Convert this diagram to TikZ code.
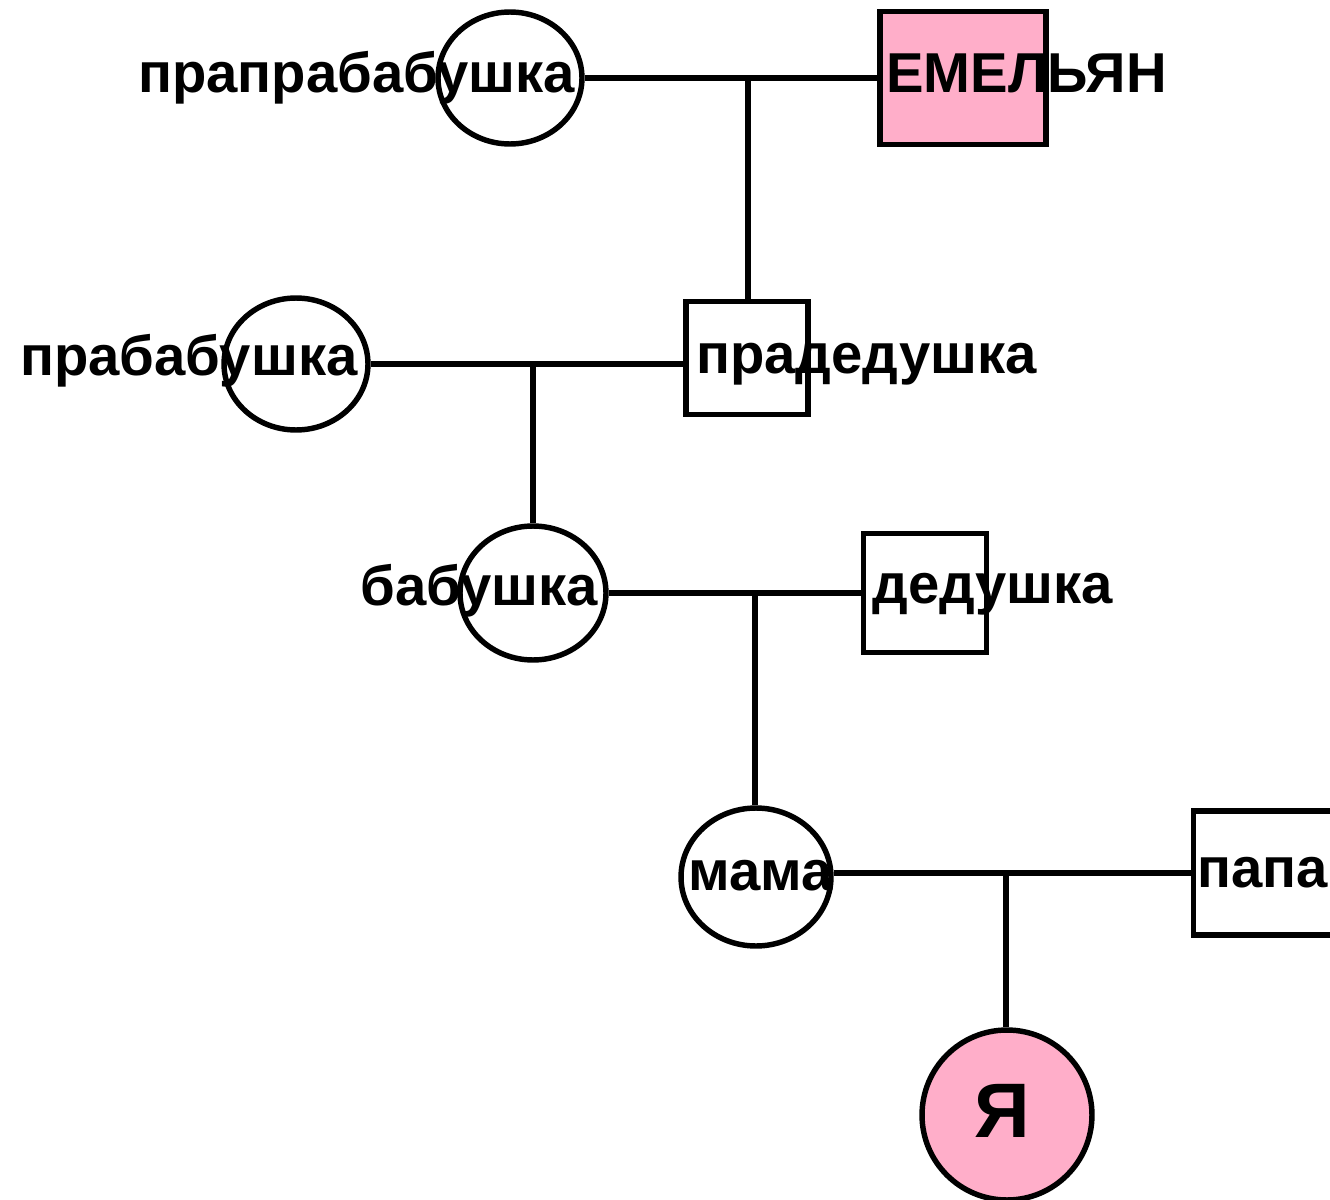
\documentclass[tikz,border=0pt]{standalone}
\usepackage{fontspec}
\setmainfont{Liberation Sans}
\usetikzlibrary{shapes.geometric}
\definecolor{pinkf}{RGB}{255,174,201}
\begin{document}
\begin{tikzpicture}[x=0.02cm,y=-0.02cm,
  ln/.style={line width=3.1pt},
  fem/.style={ellipse,draw,line width=3.1pt,inner sep=0pt},
  mal/.style={rectangle,draw,line width=3.1pt,inner sep=0pt},
  lbl/.style={anchor=base west,inner sep=0pt,font=\fontsize{32}{32}\selectfont\bfseries}]
\useasboundingbox (0,0) rectangle (1330,1200);
% shapes
\node[fem,minimum width=2.88cm,minimum height=2.64cm] (e1) at (510,78) {};
\node[mal,fill=pinkf,minimum width=3.32cm,minimum height=2.66cm] (s1) at (963,78) {};
\node[mal,minimum width=2.44cm,minimum height=2.26cm] (s2) at (747,358) {};
\node[fem,minimum width=2.88cm,minimum height=2.64cm] (e2) at (296,364) {};
\node[fem,minimum width=2.92cm,minimum height=2.68cm] (e3) at (533,593) {};
\node[mal,minimum width=2.46cm,minimum height=2.38cm] (s3) at (925,593) {};
\node[fem,minimum width=3.0cm,minimum height=2.76cm] (e4) at (756,877) {};
\node[mal,minimum width=2.9cm,minimum height=2.48cm] (s4) at (1266,873) {};
\node[circle,draw,line width=3.1pt,fill=pinkf,minimum size=3.4cm,inner sep=0pt] (me) at (1007,1115) {};
% connectors
\coordinate (j1) at (748,76);
\coordinate (j2) at (533,362);
\coordinate (j3) at (755,594);
\coordinate (j4) at (1006,873);
\draw[ln] (e1.east) -- (e1.east -| s1.west);
\draw[ln] (j1) -- (j1 |- s2.north);
\draw[ln] (e2.east) -- (e2.east -| s2.west);
\draw[ln] (j2) -- (j2 |- e3.north);
\draw[ln] (e3.east) -- (e3.east -| s3.west);
\draw[ln] (j3) -- (j3 |- e4.north);
\draw[ln] (j4 -| e4.east) -- (j4 -| s4.west);
\draw[ln] (j4) -- (j4 |- me.north);
% labels
\node[lbl] (t1) at (138,92) {прапрабабушка};
\node[lbl] (t2) at (886,92) {ЕМЕЛЬЯН};
\node[lbl] (t3) at (20,375) {прабабушка};
\node[lbl] (t4) at (696,373) {прадедушка};
\node[lbl] (t5) at (360,605) {бабушка};
\node[lbl] (t6) at (872,603) {дедушка};
\node[lbl] (t7) at (688,890) {мама};
\node[lbl] (t8) at (1197,887) {папа};
\node[anchor=base,inner sep=0pt,font=\fontsize{44}{44}\selectfont\bfseries] (t9) at (1002,1137) {Я};
\end{tikzpicture}
\end{document}
